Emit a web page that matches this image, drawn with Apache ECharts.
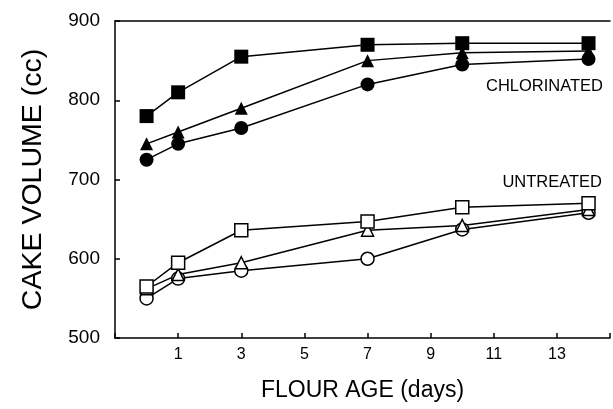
<!DOCTYPE html>
<html>
<head>
<meta charset="utf-8">
<script src="https://cdn.jsdelivr.net/npm/echarts@6/dist/echarts.min.js"></script>
<style>
html, body { margin: 0; padding: 0; background: #fff; }
#chart { width: 613px; height: 409px; }
</style>
</head>
<body>
<div id="chart"></div>
<script>
// flour age (days) at each measurement
var days = [0, 1, 3, 7, 10, 14];
var xTicks = [1, 3, 5, 7, 9, 11, 13];

// chlorinated flour (filled symbols)
var chlSquare   = [780, 810, 855, 870, 872, 872];
var chlTriangle = [745, 760, 790, 850, 860, 862];
var chlCircle   = [725, 745, 765, 820, 845, 852];

// untreated flour (open symbols)
var untSquare   = [565, 595, 636, 647, 665, 670];
var untTriangle = [562, 580, 595, 636, 642, 662];
var untCircle   = [550, 575, 585, 600, 637, 658];

var font = '"Liberation Sans", Arial, sans-serif';

function pairs(vals) {
    return days.map(function (d, i) { return [d, vals[i]]; });
}

function makeSeries(name, vals, symbol, filled, size) {
    return {
        name: name,
        type: 'line',
        data: pairs(vals),
        symbol: symbol,
        symbolSize: size,
        showAllSymbol: true,
        silent: true,
        animation: false,
        lineStyle: { color: '#000', width: 1.5 },
        itemStyle: {
            color: filled ? '#000' : '#fff',
            borderColor: '#000',
            borderWidth: filled ? 0 : 1.5,
            opacity: 1
        }
    };
}

var myChart = echarts.init(document.getElementById('chart'));
myChart.setOption({
    backgroundColor: '#fff',
    animation: false,
    grid: { left: 115, top: 21, right: 0, bottom: 71 },
    xAxis: [{
        type: 'value',
        min: -1,
        max: 14.68,
        interval: 2,
        name: 'FLOUR AGE (days)',
        nameLocation: 'middle',
        nameGap: 41,
        nameTextStyle: { fontFamily: font, fontSize: 23, color: '#000' },
        axisLine: { onZero: false, lineStyle: { color: '#000', width: 1.5 } },
        axisTick: { inside: true, length: 5, lineStyle: { color: '#000', width: 1.5 } },
        axisLabel: {
            margin: 9,
            fontFamily: font,
            fontSize: 16,
            color: '#000',
            formatter: function (v) { return xTicks.indexOf(v) >= 0 ? String(v) : ''; }
        },
        splitLine: { show: false }
    }, {
        type: 'value',
        position: 'top',
        min: -1,
        max: 14.68,
        axisLine: { show: true, onZero: false, lineStyle: { color: '#000', width: 1.5 } },
        axisTick: { show: false },
        axisLabel: { show: false },
        splitLine: { show: false }
    }],
    yAxis: {
        type: 'value',
        min: 500,
        max: 900,
        interval: 100,
        name: 'CAKE VOLUME (cc)',
        nameLocation: 'middle',
        nameRotate: 90,
        nameGap: 67,
        nameTextStyle: { fontFamily: font, fontSize: 28.5, color: '#000' },
        axisLine: { show: true, onZero: false, lineStyle: { color: '#000', width: 1.5 } },
        axisTick: { inside: true, length: 5, lineStyle: { color: '#000', width: 1.5 } },
        axisLabel: { margin: 15, fontFamily: font, fontSize: 19, color: '#000' },
        splitLine: { show: false }
    },
    series: [
        makeSeries('Untreated circle', untCircle, 'circle', false, 13),
        makeSeries('Untreated triangle', untTriangle, 'triangle', false, 12),
        makeSeries('Untreated square', untSquare, 'rect', false, 13),
        makeSeries('Chlorinated circle', chlCircle, 'circle', true, 14),
        makeSeries('Chlorinated triangle', chlTriangle, 'triangle', true, 13),
        makeSeries('Chlorinated square', chlSquare, 'rect', true, 14)
    ],
    graphic: [{
        type: 'text',
        right: 10,
        top: 78,
        style: { text: 'CHLORINATED', font: '16.5px ' + font, fill: '#000' }
    }, {
        type: 'text',
        right: 11,
        top: 174,
        style: { text: 'UNTREATED', font: '16.5px ' + font, fill: '#000' }
    }]
});
</script>
</body>
</html>
